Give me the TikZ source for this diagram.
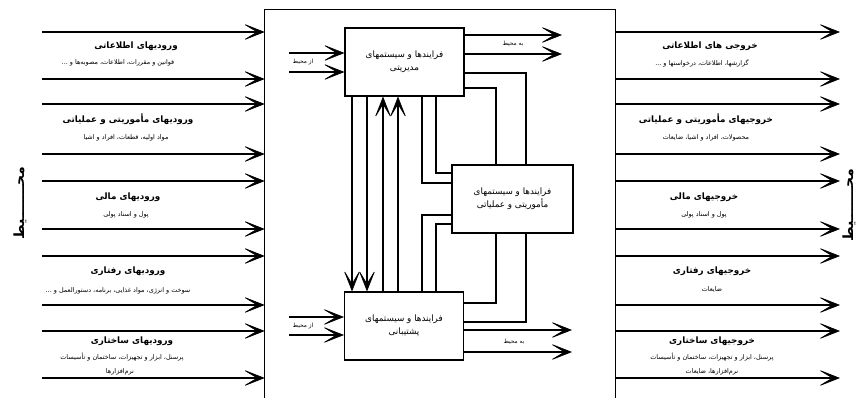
\documentclass[tikz,border=0pt]{standalone}
\usepackage{fontspec}
\newfontfamily\fa[Script=Arabic]{DejaVu Sans}
\TeXXeTstate=1
\usetikzlibrary{positioning}
\usetikzlibrary{arrows.meta}
\newcommand{\pe}[1]{{\fa\beginR #1\endR}}

\tikzset{
 flow/.style={line width=0.9pt,-{Stealth[length=7mm,width=5.5mm,inset=4.6mm,line width=0.6pt]}},
 link/.style={line width=0.9pt},
 proc/.style={draw,line width=0.9pt,minimum width=3.57cm,minimum height=2.04cm,inner sep=1pt,align=center,font=\fontsize{7.5}{11}\selectfont},
 ttl/.style={font=\fontsize{7.5}{8}\selectfont\bfseries},
 note/.style={font=\fontsize{5.5}{6}\selectfont},
 tag/.style={font=\fontsize{5}{6}\selectfont},
 env/.style={font=\fontsize{12}{14}\selectfont\bfseries,rotate=90},
}

\begin{document}
\begin{tikzpicture}[x=0.03cm,y=-0.03cm]
 \useasboundingbox (0,0) rectangle (861,398);
 % the system
 \node[minimum width=10.5cm,minimum height=11.76cm,inner sep=0pt] (sys) at (440,206) {};
 \draw[link] (sys.south west) |- (sys.north east) -- (sys.south east);
 \node[proc] (mgmt) at (404.5,62) {\pe{فرایندها و سیستمهای}\\\pe{مدیریتی}};
 \node[proc,minimum width=3.63cm] (ops) at (512.5,199) {\pe{فرایندها و سیستمهای}\\\pe{مأموریتی و عملیاتی}};
 \node[proc] (supp) at (404,326) {\pe{فرایندها و سیستمهای}\\\pe{پشتیبانی}};
 % inputs and outputs
 \foreach \y [count=\i] in {32,79,104,154,181,229,256,305,331,378}{
  \coordinate (in\i) at (42,\y);
  \draw[flow] (in\i) -- (in\i -| sys.west);
  \coordinate (out\i) at (840,\y);
  \draw[flow] (out\i -| sys.east) -- (out\i);
 }
 \node[env] (envL) at (20,203) {\pe{محـــــــیط}};
 \node[env] (envR) at (849,205) {\pe{محـــــــیط}};
 % input labels
 \node[ttl] (inT1) at (136,46) {\pe{ورودیهای اطلاعاتی}};
 \node[note] (inN1) at (118,63) {\pe{قوانین و مقررات، اطلاعات، مصوبه‌ها و ...}};
 \node[ttl] (inT2) at (128,119) {\pe{ورودیهای مأموریتی و عملیاتی}};
 \node[note] (inN2) at (126,138) {\pe{مواد اولیه، قطعات، افراد و اشیا}};
 \node[ttl] (inT3) at (128,197) {\pe{ورودیهای مالی}};
 \node[note] (inN3) at (126,215) {\pe{پول و اسناد پولی}};
 \node[ttl] (inT4) at (128,271) {\pe{ورودیهای رفتاری}};
 \node[note] (inN4) at (118,291) {\pe{سوخت و انرژی، مواد غذایی، برنامه، دستورالعمل و ...}};
 \node[ttl] (inT5) at (132,341) {\pe{ورودیهای ساختاری}};
 \node[note] (inN5) at (122,357) {\pe{پرسنل، ابزار و تجهیزات، ساختمان و تأسیسات}};
 \node[note] (inM5) at (120,372) {\pe{نرم‌افزارها}};
 % output labels
 \node[ttl] (outT1) at (710,46) {\pe{خروجی های اطلاعاتی}};
 \node[note] (outN1) at (702,63) {\pe{گزارشها، اطلاعات، درخواستها و ...}};
 \node[ttl] (outT2) at (706,119) {\pe{خروجیهای مأموریتی و عملیاتی}};
 \node[note] (outN2) at (706,138) {\pe{محصولات، افراد و اشیا، ضایعات}};
 \node[ttl] (outT3) at (704,197) {\pe{خروجیهای مالی}};
 \node[note] (outN3) at (704,215) {\pe{پول و اسناد پولی}};
 \node[ttl] (outT4) at (712,271) {\pe{خروجیهای رفتاری}};
 \node[note] (outN4) at (712,290) {\pe{ضایعات}};
 \node[ttl] (outT5) at (712,341) {\pe{خروجیهای ساختاری}};
 \node[note] (outN5) at (712,357) {\pe{پرسنل، ابزار و تجهیزات، ساختمان و تأسیسات}};
 \node[note] (outM5) at (712,372) {\pe{نرم‌افزارها، ضایعات}};
 % to and from the environment
 \coordinate (srcA) at (289,53); \coordinate (srcB) at (289,72);
 \coordinate (srcC) at (289,317); \coordinate (srcD) at (289,335);
 \coordinate (sinkA) at (562,35); \coordinate (sinkB) at (562,54);
 \coordinate (sinkC) at (572,330); \coordinate (sinkD) at (572,352);
 \foreach \s in {A,B}{\draw[flow] (src\s) -- (src\s -| mgmt.west);
  \draw[flow] (mgmt.east |- sink\s) -- (sink\s);}
 \foreach \s in {C,D}{\draw[flow] (src\s) -- (src\s -| supp.west);
  \draw[flow] (supp.east |- sink\s) -- (sink\s);}
 \node[tag] (fromTop) at (303,62) {\pe{از محیط}};
 \node[tag] (toTop) at (513,44) {\pe{به محیط}};
 \node[tag] (fromBot) at (303,326) {\pe{از محیط}};
 \node[tag] (toBot) at (514,342) {\pe{به محیط}};
 % between the processes
 \coordinate (v1) at (352,0); \coordinate (v2) at (367,0);
 \coordinate (v3) at (383,0); \coordinate (v4) at (398,0);
 \draw[flow] (v1 |- mgmt.south) -- (v1 |- supp.north);
 \draw[flow] (v2 |- mgmt.south) -- (v2 |- supp.north);
 \draw[flow] (v3 |- supp.north) -- (v3 |- mgmt.south);
 \draw[flow] (v4 |- supp.north) -- (v4 |- mgmt.south);
 \coordinate (e1) at (422,183); \coordinate (e2) at (436,173);
 \coordinate (e3) at (496,88); \coordinate (e4) at (526,73);
 \coordinate (e5) at (422,215); \coordinate (e6) at (436,224);
 \coordinate (e7) at (496,303); \coordinate (e8) at (526,322);
 \draw[link] (e1 |- mgmt.south) |- (ops.west |- e1);
 \draw[link] (e2 |- mgmt.south) |- (ops.west |- e2);
 \draw[link] (mgmt.east |- e3) -| (e3 |- ops.north);
 \draw[link] (mgmt.east |- e4) -| (e4 |- ops.north);
 \draw[link] (e5 |- supp.north) |- (ops.west |- e5);
 \draw[link] (e6 |- supp.north) |- (ops.west |- e6);
 \draw[link] (supp.east |- e7) -| (e7 |- ops.south);
 \draw[link] (supp.east |- e8) -| (e8 |- ops.south);
\end{tikzpicture}
\end{document}
